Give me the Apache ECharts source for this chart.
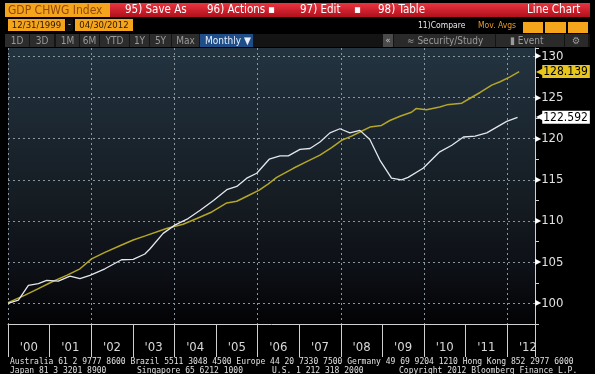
<!DOCTYPE html>
<html><head><meta charset="utf-8">
<script src="https://cdn.jsdelivr.net/npm/echarts@6/dist/echarts.min.js"></script>
<style>html,body{margin:0;padding:0;background:#000}#c{width:595px;height:374px}</style>
</head><body><div id="c"></div>
<script>
// ---- data ----
const yearLabels = ["'00","'01","'02","'03","'04","'05","'06","'07","'08","'09","'10","'11","'12"];
const gdpYears = [2000.00,2000.25,2000.49,2000.73,2000.93,2001.21,2001.49,2001.73,2001.97,2002.33,2002.73,2003.01,2003.29,2003.41,2003.73,2004.01,2004.33,2004.62,2004.94,2005.26,2005.50,2005.74,2005.98,2006.28,2006.54,2006.74,2007.02,2007.26,2007.50,2007.74,2007.98,2008.22,2008.46,2008.70,2008.94,2009.22,2009.46,2009.62,2009.98,2010.38,2010.67,2010.95,2011.23,2011.51,2011.75,2011.99,2012.25];
const gdpValues = [100.0,100.4,102.2,102.4,102.8,102.7,103.3,103.0,103.4,104.2,105.3,105.35,106.0,106.6,108.5,109.5,110.3,111.3,112.5,113.8,114.2,115.2,115.8,117.5,117.9,117.9,118.7,118.8,119.6,120.7,121.2,120.7,121.0,119.9,117.4,115.2,115.0,115.3,116.4,118.4,119.2,120.2,120.3,120.7,121.4,122.1,122.592];
const trendYears = [2000.00,2000.41,2000.73,2001.05,2001.41,2001.73,2002.01,2002.33,2002.69,2003.01,2003.30,2003.81,2004.21,2004.54,2004.90,2005.26,2005.50,2005.78,2006.04,2006.26,2006.46,2006.86,2007.18,2007.50,2007.78,2008.02,2008.26,2008.46,2008.70,2008.98,2009.18,2009.44,2009.70,2009.81,2010.06,2010.38,2010.55,2010.91,2011.11,2011.35,2011.63,2011.83,2012.07,2012.29];
const trendValues = [100.1,101.0,101.8,102.6,103.4,104.2,105.4,106.2,107.0,107.7,108.2,109.1,109.6,110.3,111.1,112.2,112.4,113.1,113.75,114.5,115.3,116.4,117.2,118.0,118.9,119.8,120.3,120.8,121.4,121.6,122.2,122.75,123.2,123.65,123.5,123.85,124.1,124.3,124.9,125.6,126.5,126.9,127.5,128.139];
const gdpLast = "122.592", trendLast = "128.139";
const footer1 = "Australia 61 2 9777 8600 Brazil 5511 3048 4500 Europe 44 20 7330 7500 Germany 49 69 9204 1210 Hong Kong 852 2977 6000";
const footer2 = [["Japan 81 3 3201 8900",10],["Singapore 65 6212 1000",137],["U.S. 1 212 318 2000",272],["Copyright 2012 Bloomberg Finance L.P.",399]];

const F = '"DejaVu Sans Condensed","Liberation Sans Narrow",sans-serif';
const M = '"DejaVu Sans Mono","Liberation Mono",monospace';
const WHITE = '#e3e7ee', YEL = '#b5a628', TAG = '#e9c61c';

function txt(x, y, s, fill, size, font, align) {
  return {type:'text', x, y, silent:true, style:{text:s, fill, font: (size||12)+'px '+(font||F), textVerticalAlign:'middle', textAlign: align||'left'}};
}
function rect(x, y, w, h, fill) { return {type:'rect', silent:true, shape:{x,y,width:w,height:h}, style:{fill}}; }

const g = [];
// row 1
g.push(rect(5,3,105,14,'#f5a51c'));
g.push(txt(8,10.5,'GDP CHWG Index','#94480a',12));
g.push({type:'rect', silent:true, shape:{x:110,y:3,width:480,height:14}, style:{fill:new echarts.graphic.LinearGradient(0,0,0,1,[{offset:0,color:'#ec3440'},{offset:1,color:'#b0101c'}])}});
[['95) Save As',125],['96) Actions',207],['\u25AA',268],['97) Edit',300],['\u25AA',354],['98) Table',378],['Line Chart',527]].forEach(a=>g.push(txt(a[1],10.5,a[0],'#ffffff',11.5)));
// row 2
g.push(rect(8,19,57,12,'#f5a51c'));
g.push(rect(66,19,7,12,'#111'));
g.push(rect(75,19,58,12,'#f5a51c'));
g.push(txt(36.5,25.5,'12/31/1999','#2a1800',9.5,F,'center'));
g.push(txt(69.5,25,'-','#ccc',9,F,'center'));
g.push(txt(104,25.5,'04/30/2012','#2a1800',9.5,F,'center'));
g.push(txt(418,26,'11)Compare','#e8e8e8',8.5));
g.push(txt(478,26,'Mov. Avgs','#e69a2a',8.5));
g.push(rect(523,22,20,11,'#f5a51c'));
g.push(rect(545,22,21,11,'#f5a51c'));
g.push(rect(568,22,20,11,'#f5a51c'));
// row 3
g.push(rect(5,34,585,13,'#141414'));
[[5,24,'1D'],[30,24,'3D'],[56,23,'1M'],[80,19,'6M'],[100,29,'YTD'],[130,19,'1Y'],[150,21,'5Y'],[172,27,'Max']].forEach(b=>{
  g.push(rect(b[0],34,b[1],13,'#2c2c2c'));
  g.push(txt(b[0]+b[1]/2,41,b[2],'#9a9a9a',10,F,'center'));
});
g.push(rect(200,34,53,13,'#1f4e86'));
g.push(txt(205,41,'Monthly \u25BC','#e8eefc',10));
g.push(rect(383,34,10,13,'#4a4a4a'));
g.push(txt(388,40.5,'\u00AB','#cccccc',9,F,'center'));
g.push(rect(394,34,101,13,'#2a2a2a'));
g.push(txt(407,41,'\u2248 Security/Study','#9a9a9a',10));
g.push(rect(496,34,68,13,'#2a2a2a'));
g.push(txt(510,41,'\u25AE Event','#9a9a9a',10));
g.push(rect(565,34,23,13,'#2a2a2a'));
g.push(txt(576,41,'\u2699','#9a9a9a',10,F,'center'));
// footer
g.push(txt(10,362,footer1,'#e0e0e0',8,M));
footer2.forEach(a=>g.push(txt(a[1],371,a[0],'#e0e0e0',8,M)));

const tag = (val, col) => ({
  silent:true, symbol:['none','none'], lineStyle:{color:'rgba(0,0,0,0)',width:0.01},
  label:{show:true, position:'end', distance:1, formatter:'{a|\u25C0}{b|'+val+'}',
    rich:{a:{color:col,fontSize:12,fontFamily:'DejaVu Sans',padding:[0,-3,0,0],lineHeight:13},
          b:{backgroundColor:col,color:'#000',fontSize:12,fontFamily:F,padding:[1,2,0,1],lineHeight:13}}},
  emphasis:{disabled:true},
  data:[{yAxis: Number(val)}]
});

const chart = echarts.init(document.getElementById('c'));
chart.setOption({
  backgroundColor:'#000',
  animation:false,
  grid:{left:8,right:60,top:48,bottom:50,show:true,borderWidth:0,
    backgroundColor:new echarts.graphic.LinearGradient(0,0,0,1,[
      {offset:0,color:'#233440'},{offset:0.3,color:'#1b2630'},{offset:0.55,color:'#151c22'},{offset:0.8,color:'#0d1016'},{offset:1,color:'#030305'}])},
  xAxis:[{
    type:'value', min:2000, max:2012.67, interval:1, position:'bottom',
    axisLine:{lineStyle:{color:'#d0d0d0',width:1}},
    axisTick:{show:true,length:33,lineStyle:{color:'#d0d0d0'}},
    axisLabel:{show:true,margin:17,color:'#d8d8d8',fontSize:13,fontFamily:F,padding:[0,0,0,41.6],
      formatter:v=>{const r=Math.round(v); return Math.abs(v-r)<1e-6 && r>=2000 && r<=2012 ? yearLabels[r-2000] : '';}},
    splitLine:{show:false}
  },{
    type:'value', min:2000, max:2012.67, interval:2, position:'top',
    axisLine:{show:false}, axisTick:{show:false}, axisLabel:{show:false},
    splitLine:{show:true,lineStyle:{color:'#8b959e',type:[2,3],width:1}}
  }],
  yAxis:[{
    type:'value', position:'right', min:97.5, max:131, interval:2.5,
    axisLine:{show:true,lineStyle:{color:'#d0d0d0'}},
    axisTick:{show:true,length:4,lineStyle:{color:'#d0d0d0'}},
    axisLabel:{show:true,margin:0,color:'#e0e0e0',fontFamily:F,fontSize:13,
      formatter:v=>{const q=v/5; return Math.abs(q-Math.round(q))<1e-6 ? '{t|\u25B6}{v|'+Math.round(v)+'}' : '';},
      rich:{t:{color:'#ffffff',fontSize:8,fontFamily:'DejaVu Sans'},v:{color:'#e0e0e0',fontSize:13,fontFamily:F}}},
    splitLine:{show:true,lineStyle:{color:['rgba(0,0,0,0)','#8b959e'],type:[2,3],width:1}}
  }],
  series:[{
    name:'Trend', type:'line', xAxisIndex:0, showSymbol:false, clip:false,
    data:trendYears.map((x,i)=>[x,trendValues[i]]),
    lineStyle:{color:YEL,width:1.5}, markLine:tag(trendLast,TAG)
  },{
    name:'GDP', type:'line', xAxisIndex:0, showSymbol:false, clip:false,
    data:gdpYears.map((x,i)=>[x,gdpValues[i]]),
    lineStyle:{color:WHITE,width:1.3}, markLine:tag(gdpLast,'#ffffff')
  }],
  graphic:g
});
</script></body></html>
